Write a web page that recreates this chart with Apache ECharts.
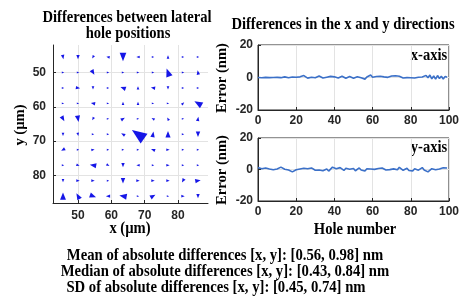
<!DOCTYPE html>
<html><head><meta charset="utf-8">
<script src="https://cdn.jsdelivr.net/npm/echarts@6/dist/echarts.min.js"></script>
<style>html,body{margin:0;padding:0;background:#fff}#c{width:462px;height:296px}</style>
</head><body><div id="c"></div>
<script>
// hole grid positions (µm)
const colX = [45.5, 50, 54.5, 59, 63.5, 68, 72.5, 77, 81.5, 86];
const rowY = [45.5, 50, 54.5, 59, 63.5, 68, 72.5, 77, 81.5, 86];
// arrow magnitude (nm) per row
const mag = [
  [0.8,0.8,0.5,0.5,2.1,0.5,0.2,0.5,0.2,0.2],
  [0.2,0.2,1.2,0.2,0.2,0.2,0.2,2.1,0.2,0.8],
  [0.2,0.8,0.5,0.2,1.2,0.5,0.8,0.5,0.2,0.2],
  [0.2,0.2,0.8,0.2,0.5,0.5,0.2,0.2,0.5,2.1],
  [1.2,1.5,0.5,0.2,0.8,0.2,0.5,0.5,0.2,0.8],
  [0.5,0.5,0.2,0.2,0.8,4.2,1.2,1.5,0.2,1.2],
  [0.8,0.2,0.5,0.2,0.2,0.2,0.8,0.5,0.2,0.2],
  [0.2,0.5,1.5,0.5,0.8,0.5,0.2,0.5,0.2,0.2],
  [0.5,0.5,0.5,0.2,1.2,0.5,0.5,0.5,0.8,1.2],
  [1.8,1.5,1.5,0.8,1.8,0.2,1.2,0.2,0.5,0.8]
];
// arrow direction (deg, 0 = right, 90 = up on screen) per row
const ang = [
  [-80,-90,-120,170,-90,180,0,90,0,0],
  [0,0,-60,0,0,0,0,110,0,100],
  [0,-10,-90,0,160,90,170,-90,0,0],
  [0,0,170,0,90,90,0,0,45,150],
  [-60,-80,-120,0,30,0,150,120,0,80],
  [-90,-80,0,0,150,145,80,90,0,-90],
  [-150,0,10,0,0,0,160,0,0,0],
  [0,-20,170,-30,-90,180,0,0,0,0],
  [-90,0,0,0,-90,0,0,0,-120,10],
  [90,120,-20,180,170,0,30,0,0,-90]
];
const holeNum = Array.from({length:100},(_,i)=>i);
const diffX = [0,0.3,-0.2,-0.5,0.1,0.2,-0.1,0.3,0,-0.2,
 0.1,-0.3,-0.1,0.2,0.4,0,-0.2,0.1,0.3,0.5,
 0.2,-0.1,0.4,0.6,1.2,0.3,-0.4,0.8,0.2,1.0,
 -0.2,0.3,0.9,0.1,-0.3,0.5,0.2,-0.1,0.7,0,
 0.4,1.0,-0.3,0.2,0.8,0.1,-0.5,0.3,0.6,0.0,
 -0.4,0.2,0.5,0.1,-0.2,0.4,-1.0,0.3,0.9,1.5,
 0.2,-0.5,0.6,0.3,0.8,-0.2,0.4,1.0,0.1,0.5,
 0.9,0.2,1.1,0.4,0.8,0.1,-0.3,0.2,-0.1,0.1,
 -0.2,0.0,-0.3,0.1,0.2,-0.1,0.3,0.5,1.3,-0.2,
 1.5,-0.8,0.9,-1.0,1.2,-0.6,0.8,-0.9,0.7,0.1];
const diffY = [1.2,1.5,0.5,0.8,1.0,2.2,0.3,1.0,-0.2,0.6,
 0.3,0.8,1.5,0.5,0.2,-0.5,-0.3,-1.0,-1.5,-0.8,
 -0.2,-1.2,0.3,-0.6,0.8,-0.4,0.5,-0.2,1.0,0.2,
 -0.5,0.6,-0.3,0.4,-0.8,-0.2,0.3,-1.0,0.2,1.5,
 2.0,0.5,-0.3,1.2,0.3,-0.6,0.8,1.5,0.2,-0.4,
 0.6,-0.8,0.2,1.0,-0.3,0.4,-0.9,0.5,-0.2,0.3,
 0.8,0.1,-0.5,0.6,0.2,1.0,0.4,-0.3,0.7,-0.1,
 -1.2,0.4,0.9,-0.2,1.4,0.6,-0.5,0.3,0.8,-0.6,
 0.2,-0.9,0.5,1.0,-0.4,0.6,1.2,-0.3,0.8,-1.5,
 -2.0,0.5,1.6,-0.2,0.9,0.3,-0.6,1.1,0.4,1.0];
const posTicks = [50, 60, 70, 80];
const holeTicks = [0, 20, 40, 60, 80, 100];
const errTicks = [-20, 0, 20];
const statLines = [
  'Mean of absolute differences [x, y]: [0.56, 0.98] nm',
  'Median of absolute differences [x, y]: [0.43, 0.84] nm',
  'SD of absolute differences [x, y]: [0.45, 0.74] nm'
];

const quiver = [];
rowY.forEach((y, r) => colX.forEach((x, c) => {
  const m = mag[r][c];
  const s = 1.8 + m * 3.1;
  quiver.push({value:[x, y], symbolSize:[s*0.8, s], symbolRotate: ang[r][c] - 90});
}));

const dark = '#262626';
const lab = {color: dark, fontFamily: 'Liberation Sans, Arial', fontWeight: 'bold', fontSize: 12};
const serif = 'Liberation Serif, Times New Roman';
function gAxis(extra){ return Object.assign({
  axisLine:{show:true, onZero:false, lineStyle:{color:dark, width:1}},
  axisTick:{show:true, inside:true, length:3, lineStyle:{color:dark}},
  splitLine:{show:true, lineStyle:{color:'#e3e3e3', width:1}},
  axisLabel: Object.assign({}, lab)
}, extra); }

const chart = echarts.init(document.getElementById('c'), null, {renderer:'canvas'});
const txt = (x, y, t, size, extra) => Object.assign({type:'text', x, y, scaleY:1.14,
  style:{text:t, fontFamily:serif, fontWeight:'bold', fontSize:size, fill:'#000', textAlign:'center', textVerticalAlign:'middle'}}, extra||{});
chart.setOption({
  animation:false,
  grid:[
    {left:53, top:45, width:155, height:158},
    {left:258, top:45, width:195, height:65, show:true, borderColor:dark, borderWidth:1},
    {left:258, top:138, width:195, height:63, show:true, borderColor:dark, borderWidth:1}
  ],
  xAxis:[
    gAxis({gridIndex:0, type:'value', min:42.5, max:89,
      axisTick:{show:true, inside:true, length:3, lineStyle:{color:dark}, customValues:posTicks},
      axisLabel:Object.assign({margin:7, customValues:posTicks}, lab)}),
    gAxis({gridIndex:1, type:'value', min:0, max:100, interval:20, axisLabel:Object.assign({margin:5}, lab)}),
    gAxis({gridIndex:2, type:'value', min:0, max:100, interval:20, axisLabel:Object.assign({margin:5}, lab)})
  ],
  yAxis:[
    gAxis({gridIndex:0, type:'value', min:42, max:88, inverse:true,
      axisTick:{show:true, inside:true, length:3, lineStyle:{color:dark}, customValues:posTicks},
      axisLabel:Object.assign({margin:7, customValues:posTicks}, lab)}),
    gAxis({gridIndex:1, type:'value', min:-20, max:20, interval:20, axisLabel:Object.assign({margin:5}, lab)}),
    gAxis({gridIndex:2, type:'value', min:-20, max:20, interval:20, axisLabel:Object.assign({margin:5}, lab)})
  ],
  series:[
    {type:'scatter', xAxisIndex:0, yAxisIndex:0, symbol:'triangle', data:quiver,
      itemStyle:{color:'#0a0ae6', opacity:0.95}},
    {type:'line', xAxisIndex:1, yAxisIndex:1, data:holeNum.map((h,i)=>[h, diffX[i]]),
      showSymbol:false, lineStyle:{color:'#3b70c8', width:1.6}, itemStyle:{color:'#3b70c8'}},
    {type:'line', xAxisIndex:2, yAxisIndex:2, data:holeNum.map((h,i)=>[h, diffY[i]]),
      showSymbol:false, lineStyle:{color:'#3b70c8', width:1.6}, itemStyle:{color:'#3b70c8'}}
  ],
  graphic:[
    txt(127, 18, 'Differences between lateral', 14.6),
    txt(128, 34, 'hole positions', 14.6),
    txt(343, 25, 'Differences in the x and y directions', 14.6),
    txt(429, 56, 'x-axis', 14.6),
    txt(429, 148, 'y-axis', 14.6),
    txt(130, 229, 'x (µm)', 14.6),
    txt(355, 230, 'Hole number', 14.6),
    txt(20, 125, 'y (µm)', 14.6, {rotation:Math.PI/2, scaleY:1, scaleX:1}),
    txt(222, 78, 'Error (nm)', 14.6, {rotation:Math.PI/2, scaleY:1, scaleX:1}),
    txt(222, 170, 'Error (nm)', 14.6, {rotation:Math.PI/2, scaleY:1, scaleX:1}),
    txt(225, 256, statLines[0], 14.7),
    txt(225, 272, statLines[1], 14.7),
    txt(216, 288, statLines[2], 14.7)
  ]
});
</script></body></html>
